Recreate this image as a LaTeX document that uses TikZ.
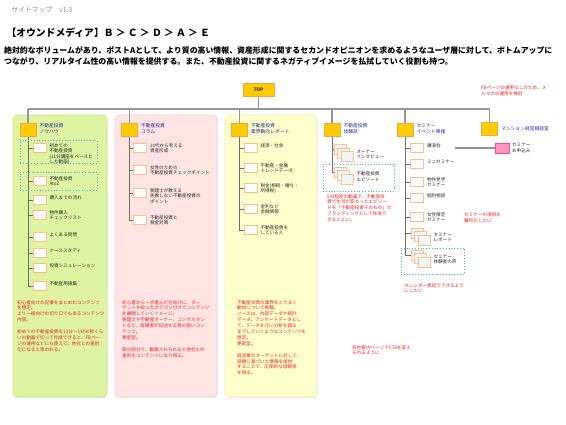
\documentclass[tikz,border=0pt]{standalone}
\usepackage{fontspec}
\setmainfont{Noto Sans CJK JP}
\usetikzlibrary{positioning, shadows, backgrounds}

\definecolor{boxorange}{RGB}{255,204,0}
\definecolor{edgeorange}{RGB}{240,165,70}
\definecolor{itemedge}{RGB}{255,190,140}
\definecolor{linegray}{RGB}{110,110,110}
\definecolor{bargray}{RGB}{150,150,150}
\definecolor{headblue}{RGB}{40,40,150}
\definecolor{notered}{RGB}{240,30,30}
\definecolor{dotblue}{RGB}{50,180,230}
\definecolor{greenbg}{RGB}{222,244,160}
\definecolor{greenedge}{RGB}{205,228,150}
\definecolor{pinkbg}{RGB}{255,228,228}
\definecolor{pinkedge}{RGB}{245,205,205}
\definecolor{yellowbg}{RGB}{255,255,204}
\definecolor{yellowedge}{RGB}{240,235,180}
\definecolor{stackfill}{RGB}{238,246,246}
\definecolor{applypink}{RGB}{255,150,200}
\definecolor{applyedge}{RGB}{255,80,110}

\tikzset{
  headbox/.style={draw=edgeorange, fill=boxorange, minimum width=16pt, minimum height=13pt, inner sep=0pt, line width=0.6pt},
  itembox/.style={draw=itemedge, fill=white, minimum width=13pt, minimum height=9.5pt, inner sep=0pt, line width=0.6pt},
  docstack/.style={itembox, fill=stackfill, minimum width=12pt, minimum height=10pt,
    copy shadow={shadow xshift=-7pt, shadow yshift=7pt, draw=itemedge, fill=stackfill, line width=0.6pt},
    copy shadow={shadow xshift=-3.5pt, shadow yshift=3.5pt, draw=itemedge, fill=stackfill, line width=0.6pt}},
  headtext/.style={text=headblue, font=\fontsize{4.8}{6}\selectfont, align=left, inner sep=0.5pt, anchor=north west},
  itemtext/.style={text=black!85, font=\fontsize{4.6}{5.4}\selectfont, align=left, inner sep=0.5pt, anchor=north west},
  notetext/.style={text=notered, font=\fontsize{4.6}{5.9}\selectfont, align=left, inner sep=0pt, anchor=north west},
  dotbox/.style={draw=dotblue, dotted, line width=0.8pt, inner sep=0pt},
  panel/.style={rounded corners=4pt, inner sep=0pt, minimum height=282pt, line width=0.6pt,
    drop shadow={opacity=0.15, shadow xshift=0.8pt, shadow yshift=-1.2pt}},
  tree/.style={draw=linegray, line width=0.8pt},
  rail/.style={draw=bargray, line width=1.3pt}
}

\begin{document}
\begin{tikzpicture}[x=1pt, y=-1pt]
    \useasboundingbox (0,0) rectangle (566,425);

    % Heading
    \node[anchor=west, text=black!45, font=\fontsize{6.8}{7}\selectfont] (sitemap) at (8,10) {サイトマップ\hspace{7pt}v1.3};
    \node[anchor=west, font=\bfseries\fontsize{9.8}{11}\selectfont] (title) at (3,33) {【オウンドメディア】Ｂ ＞ Ｃ ＞ Ｄ ＞ Ａ ＞ Ｅ};
    \node[anchor=north west, align=left, inner sep=0pt, font=\bfseries\fontsize{7.9}{11}\selectfont] (lead) at (4,46)
        {絶対的なボリュームがあり、ポストAとして、より質の高い情報、資産形成に関するセカンドオピニオンを求めるようなユーザ層に対して、ボトムアップに\\
         つながり、リアルタイム性の高い情報を提供する。また、不動産投資に関するネガティブイメージを払拭していく役割も持つ。};

    % Top and the six categories
    \node[headbox, minimum width=31pt, font=\bfseries\fontsize{4.8}{5}\selectfont, text=black!80] (top) at (258.5,89.5) {TOP};
    \coordinate (rail) at (0,109);
    \node[headbox] (h1) at (28,129.5) {};
    \node[headbox] (h2) at (129.5,129.5) {};
    \node[headbox] (h3) at (239.5,129.5) {};
    \node[headbox] (h4) at (332,129.5) {};
    \node[headbox] (h5) at (405,129.5) {};
    \node[headbox] (h6) at (489.5,129) {};
    \node[headtext] (h1-t) at ([xshift=2.5pt]h1.north east) {不動産投資\\ノウハウ};
    \node[headtext] (h2-t) at ([xshift=2.5pt]h2.north east) {不動産投資\\コラム};
    \node[headtext] (h3-t) at ([xshift=2.5pt]h3.north east) {不動産投資\\業界動向レポート};
    \node[headtext] (h4-t) at ([xshift=2.5pt]h4.north east) {不動産投資\\体験談};
    \node[headtext] (h5-t) at ([xshift=2.5pt]h5.north east) {セミナー\\イベント情報};
    \node[headtext, anchor=west] (h6-t) at ([xshift=2.5pt]h6.east) {マンション経営相談室};

    % Pages of each category
    \foreach \nm/\y/\txt in {a1/148/{初めての\\不動産投資\\(11分講座をベースと\\した動画)}, a2/181/{不動産投資\\AtoZ},
        a3/200/{購入までの流れ}, a4/215/{物件購入\\チェックリスト}, a5/237/{よくある質問},
        a6/253/{ケーススタディ}, a7/268/{投資シミュレーション}, a8/286/{不動産用語集}}{
        \node[itembox] (\nm) at (39.5,\y) {};
        \node[itemtext] (\nm-t) at ([xshift=2.5pt]\nm.north east) {\txt};
    }
    \foreach \nm/\y/\txt in {b1/148/{20代から考える\\資産形成}, b2/170/{女性のための\\不動産投資チェックポイント},
        b3/193/{税理士が教える\\失敗しない不動産投資の\\ポイント}, b4/220/{不動産投資と\\税金対策}}{
        \node[itembox] (\nm) at (140,\y) {};
        \node[itemtext] (\nm-t) at ([xshift=2.5pt]\nm.north east) {\txt};
    }
    \foreach \nm/\y/\txt in {c1/148/{経済・社会}, c2/168/{不動産・金融\\トレンドデータ},
        c3/188/{税金(相続・贈与・\\所得税)}, c4/209/{金利など\\金融情報}, c5/230/{不動産投資を\\している人}}{
        \node[itembox] (\nm) at (250.5,\y) {};
        \node[itemtext] (\nm-t) at ([xshift=2.5pt]\nm.north east) {\txt};
    }
    \foreach \nm/\y/\txt in {d1/156.5/{オーナー\\インタビュー}, d2/179/{不動産投資\\エピソード}}{
        \node[docstack] (\nm) at (347,\y) {};
        \node[itemtext] (\nm-t) at ([xshift=2.5pt,yshift=2.5pt]\nm.north east) {\txt};
    }
    \foreach \nm/\y/\txt in {e1/148/{講演会}, e2/164/{ミニセミナー}, e3/182/{物件見学\\セミナー},
        e4/198/{個別相談}, e5/217/{女性限定\\セミナー}}{
        \node[itembox] (\nm) at (417,\y) {};
        \node[itemtext] (\nm-t) at ([xshift=2.5pt]\nm.north east) {\txt};
    }
    \foreach \nm/\y/\txt in {e6/240/{セミナー\\レポート}, e7/262/{セミナー\\体験者の声}}{
        \node[docstack] (\nm) at (424,\y) {};
        \node[itemtext] (\nm-t) at ([xshift=2.5pt,yshift=2.5pt]\nm.north east) {\txt};
    }
    \node[draw=applyedge, fill=applypink, minimum width=14pt, minimum height=10pt, inner sep=0pt, line width=0.8pt] (apply) at (502,148) {};
    \node[itemtext] (apply-t) at ([xshift=2pt]apply.north east) {セミナー\\お申込み};
    \coordinate (applyfrom) at (455,148);

    % Dotted marks
    \node[dotbox, minimum width=77pt, minimum height=23pt] (mark1) at (58.5,151.5) {};
    \node[dotbox, minimum width=77pt, minimum height=18pt] (mark2) at (58.5,181) {};
    \node[dotbox, minimum width=71pt, minimum height=27pt] (mark3) at (358.5,177.5) {};
    \node[dotbox, minimum width=63pt, minimum height=26pt] (mark4) at (432.5,261) {};

    % Notes
    \node[notetext] (note0) at (481,86) {FBページの運用なしのため、メ\\ルマガの運用を検討};
    \node[notetext] (note1) at (17,300) {初心者向けの記事をまとめたコンテンツ\\を想定。\\より一般向けの切り口でもあるコンテンツ\\内容。\\[5.9pt]
        初めての不動産投資を11分～1分30秒くら\\いの動画で切って作成できると、FBペー\\ジの運用などにも使えて、他社との差別\\化になると思われる。};
    \node[notetext] (note2) at (122,300) {初心者から一歩進んだ方向けに、ター\\ゲットを絞ったカテゴリ分けでコンテンツ\\を展開していくイメージ。\\
        税理士や不動産オーナー、コンサルタン\\トなど、有識者が記述する質の高いコン\\テンツ。\\更新型。\\[5.9pt]
        部分部分で、動画入れられると他社との\\差別化コンテンツになり得る。};
    \node[notetext] (note3) at (237,300) {不動産投資の業界をとりまく\\動向について掲載。\\ソースは、内部データや統計\\データ、アンケートデータとし\\
        て、データを元に分析を図る\\までしていくようなコンテンツを\\想定。\\更新型。\\[5.9pt]
        経営層のターゲットに対して、\\話題に基づいた情報を提供\\することで、圧倒的な信頼感\\を得る。};
    \node[notetext] (note4) at (327,194) {5分程度の動画で、不動産投\\資で生活が変わったエピソー\\ドを「不動産投資そのもの」の\\ブランディングとして作成で\\きるとよい。};
    \node[notetext] (note5) at (404,283) {カレンダー表記でできるよう\\にしたい};
    \node[notetext] (note6) at (464,213) {セミナーの項目を\\羅列化したい};
    \node[notetext] (note7) at (352,345) {会社案内ページでCTAを変え\\られるように};

    \begin{scope}[on background layer]
        % Panels
        \node[panel, fill=greenbg, draw=greenedge, minimum width=94pt] (p1) at (60,256) {};
        \node[panel, fill=pinkbg, draw=pinkedge, minimum width=102pt] (p2) at (166,256) {};
        \node[panel, fill=yellowbg, draw=yellowedge, minimum width=92pt] (p3) at (271,256) {};

        % Connect the pages
        \draw[rail] (top.south) -- (top |- rail);
        \draw[rail] (h1 |- rail) -- (h6 |- rail);
        \foreach \h in {h1,h2,h3,h4,h5,h6}
            \draw[rail] (\h |- rail) -- (\h.north);
        \foreach \i in {1,...,8}
            \draw[tree] (h1.south) |- (a\i.west);
        \foreach \i in {1,...,4}
            \draw[tree] (h2.south) |- (b\i.west);
        \foreach \i in {1,...,5}
            \draw[tree] (h3.south) |- (c\i.west);
        \foreach \i in {1,2}
            \draw[tree] (h4.south) |- ([xshift=-7pt,yshift=7pt]d\i.west);
        \foreach \i in {1,...,5}
            \draw[tree] (h5.south) |- (e\i.west);
        \foreach \i in {6,7}
            \draw[tree] (h5.south) |- ([xshift=-7pt,yshift=7pt]e\i.west);
        \draw[rail] (applyfrom) -- (apply);
    \end{scope}
\end{tikzpicture}
\end{document}
